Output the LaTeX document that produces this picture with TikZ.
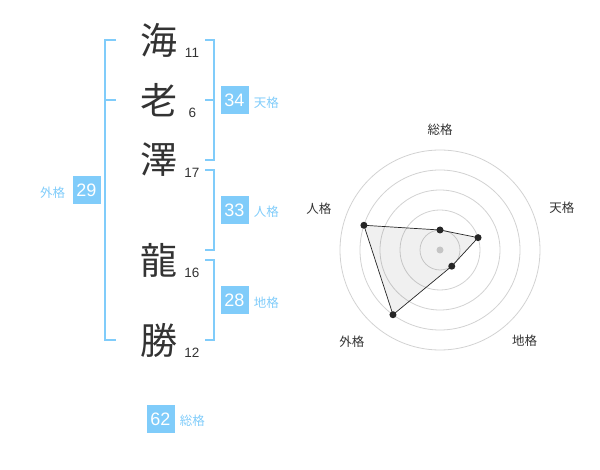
\documentclass[tikz,border=0pt]{standalone}
\usepackage{fontspec}
\setmainfont{Liberation Sans}
\newfontfamily\cjk{Noto Sans CJK JP}
\usetikzlibrary{positioning}
\definecolor{kakublue}{RGB}{128,204,250}
\definecolor{moji}{RGB}{51,51,51}
\definecolor{ringgray}{RGB}{210,210,210}
\begin{document}
\begin{tikzpicture}[x=1pt,y=-1pt,
  kanji/.style={font=\cjk\fontsize{37}{37}\selectfont,text=moji,inner sep=0pt},
  strokes/.style={font=\fontsize{13.5}{13.5}\selectfont,text=moji,inner sep=0pt},
  kakubox/.style={fill=kakublue,text=white,minimum width=28pt,minimum height=28pt,inner sep=0pt,font=\fontsize{18}{18}\selectfont},
  kakuname/.style={font=\cjk\fontsize{12.5}{12.5}\selectfont,text=kakublue,inner sep=0pt},
  bracket/.style={draw=kakublue,line width=2pt},
  axisname/.style={font=\cjk\fontsize{12.5}{12.5}\selectfont,text=moji,inner sep=0pt},
  ring/.style={draw=ringgray,line width=0.8pt}]
\useasboundingbox (0,0) rectangle (600,470);

% name
\node[kanji] (c1) at (159,40) {海};
\node[kanji] (c2) at (159,100) {老};
\node[kanji] (c3) at (159,160) {澤};
\node[kanji] (c4) at (159,260) {龍};
\node[kanji] (c5) at (159,340) {勝};
\node[strokes] (s1) at (192,52.5) {11};
\node[strokes] (s2) at (192.5,113) {6};
\node[strokes] (s3) at (192,172.5) {17};
\node[strokes] (s4) at (192,272.5) {16};
\node[strokes] (s5) at (192,352.5) {12};

% brackets
\draw[bracket] (116,40) -- (104.5,40) -- (104.5,340) -- (116,340);
\draw[bracket] (104.5,100) -- (116,100);
\draw[bracket] (205,40) -- (214.3,40) -- (214.3,160) -- (205,160);
\draw[bracket] (205,100) -- (214.3,100);
\draw[bracket] (205,170) -- (214.3,170) -- (214.3,250) -- (205,250);
\draw[bracket] (205,260) -- (214.3,260) -- (214.3,340) -- (205,340);

% kakusu
\node[kakubox] (gaikaku) at (86.5,190.5) {29};
\node[kakuname,left=7pt of gaikaku,yshift=-2pt] (gainame) {外格};
\node[kakubox] (tenkaku) at (234.5,100.5) {34};
\node[kakuname,right=5pt of tenkaku,yshift=-2pt] (tenname) {天格};
\node[kakubox] (jinkaku) at (234.5,210) {33};
\node[kakuname,right=5pt of jinkaku,yshift=-2pt] (jinname) {人格};
\node[kakubox] (chikaku) at (234.5,300.5) {28};
\node[kakuname,right=5pt of chikaku,yshift=-2pt] (chiname) {地格};
\node[kakubox] (soukaku) at (160.5,419) {62};
\node[kakuname,right=5pt of soukaku,yshift=-2pt] (souname) {総格};

% radar
\begin{scope}[shift={(440,250)},y=1pt]
\foreach \r in {20,40,...,100}
  \draw[ring] (0,0) circle (\r);
\fill[ringgray] (0,0) circle (3.5);
\coordinate (psou) at (90:20);
\coordinate (pten) at (18:40);
\coordinate (pchi) at (-54:20);
\coordinate (pgai) at (-126:80);
\coordinate (pjin) at (162:80);
\filldraw[fill=black,fill opacity=0.06,draw=black!85,line width=0.7pt] (psou) -- (pten) -- (pchi) -- (pgai) -- (pjin) -- cycle;
\foreach \p in {psou,pten,pchi,pgai,pjin}
  \fill[black!85] (\p) circle (3.5);
\node[axisname] (asou) at (90:120) {総格};
\node[axisname] (aten) at (19:129) {天格};
\node[axisname] (achi) at (-47:124) {地格};
\node[axisname] (agai) at (-134:127) {外格};
\node[axisname] (ajin) at (161:128) {人格};
\end{scope}
\end{tikzpicture}
\end{document}
